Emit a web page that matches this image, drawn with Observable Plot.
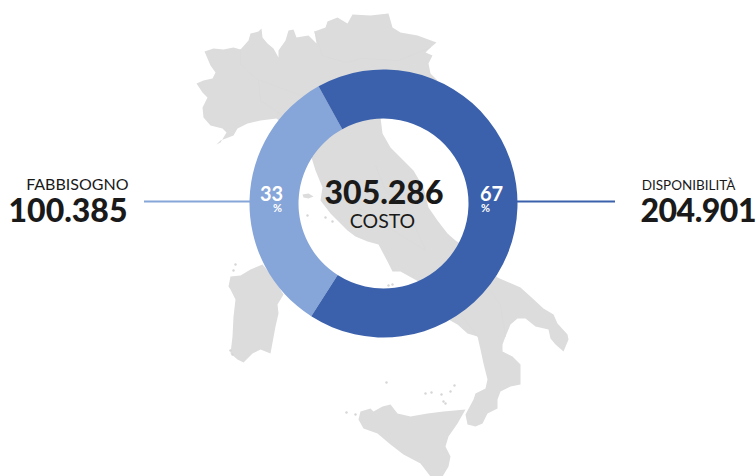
<!DOCTYPE html>
<html><head><meta charset="utf-8">
<script src="https://cdn.jsdelivr.net/npm/d3@7"></script>
<script src="https://cdn.jsdelivr.net/npm/@observablehq/plot@0.6"></script>
<style>html,body{margin:0;padding:0;background:#fff}svg{display:block}.tight text{letter-spacing:-0.5px}</style>
</head><body><div id="c"></div>
<script>
const labels = ["FABBISOGNO", "DISPONIBILITÀ"];
const values = [100385, 204901];
const percents = [33, 67];
const total = 305286;
const totalLabel = "COSTO";
const colors = ["#86a5d8", "#3b61ac"];

// Outline of Italy (map units)
const mainland = [[196,83],[203,80],[212,78],[215,72],[210,65],[207,58],[204,51],[213,48],[223,49],[233,47],[240,49],[248,40],[250,33],[258,31],[261,28],[262,37],[267,43],[273,48],[278,57],[278,50],[285,40],[288,30],[293,29],[296,37],[308,35],[316,43],[314,31],[325,27],[327,21],[337,17],[347,23],[352,14],[370,15],[388,13],[392,27],[400,32],[417,35],[436,42],[430,47],[425,52],[432,55],[428,63],[430,73],[437,80],[413,100],[387,110],[380,117],[382,133],[390,147],[400,157],[413,170],[423,187],[428,207],[437,220],[447,233],[455,240],[470,250],[497,277],[520,287],[530,296],[543,308],[553,314],[557,323],[567,334],[568,339],[563,351],[555,344],[550,338],[548,329],[535,326],[525,318],[517,318],[510,324],[505,336],[502,344],[502,351],[512,356],[520,364],[520,373],[520,384],[510,386],[500,391],[497,399],[497,408],[487,413],[482,423],[475,426],[467,424],[465,414],[473,399],[475,393],[485,388],[487,379],[483,363],[480,349],[477,336],[467,333],[457,324],[448,319],[430,300],[418,281],[400,271],[392,271],[387,261],[378,244],[367,241],[355,236],[347,230],[330,213],[320,200],[322,187],[315,170],[311,157],[290,130],[276,118],[260,120],[247,123],[237,128],[233,135],[220,140],[216,144],[220,142],[226,132],[222,128],[210,125],[203,117],[202,107],[207,97],[202,92]];
const sardinia = [[228,286],[230,276],[240,275],[250,269],[262,264],[272,276],[283,294],[277,304],[278,313],[275,326],[270,353],[260,349],[252,353],[243,362],[237,359],[230,353],[232,336],[233,316],[235,299],[230,289]];
const sicily = [[358,419],[360,411],[370,408],[373,411],[382,406],[390,404],[397,413],[410,416],[427,413],[443,411],[465,409],[457,423],[448,436],[445,446],[450,456],[448,466],[442,476],[430,476],[420,463],[403,454],[390,444],[377,433],[363,428]];
const elba = [[302,194],[308,193],[313,196],[308,198],[303,197]];
const outlines = [mainland, sardinia, sicily, elba]
  .flatMap((part, z) => part.map(([x, y]) => ({x, y, z})));
const borders = [
  [[240,49],[240,64],[258,80],[260,100],[285,117]],
  [[314,31],[322,55],[345,62],[362,58],[398,60],[430,47]],
  [[260,80],[300,95],[330,90]],
  [[375,165],[385,190],[410,215],[425,250]],
  [[347,200],[385,225],[425,250]],
  [[490,290],[500,305],[505,336]],
  [[450,300],[477,336]]
].flatMap((part, z) => part.map(([x, y]) => ({x, y, z})));
const islets = [[325,217],[307,215],[332,221],[386,382],[425,393],[431,392],[441,394],[443,401],[445,403],[450,391],[454,385],[346,412],[355,414],[388,285],[392,284],[235,264],[233,270],[230,350],[232,354]];

// Donut, from the values
const center = {x: 383, y: 203};
const tau = 2 * Math.PI, startAngle = -29 * Math.PI / 180;
const outerR = 134, innerRatio = 85 / 134;
const arcSymbol = (a0, a1) => ({
  draw(ctx, size) {
    const r = Math.sqrt(size / Math.PI);
    d3.arc().context(ctx)({innerRadius: r * innerRatio, outerRadius: r, startAngle: a0, endAngle: a1});
    ctx.closePath();
  }
});
const shareDark = values[1] / total;
const darkEnd = startAngle + shareDark * tau;
const sliceMark = (a0, a1, fill) =>
  Plot.dot([center], {x: "x", y: "y", r: outerR, symbol: arcSymbol(a0, a1), fill, stroke: "none"});

const font = "Lato, 'Open Sans', sans-serif";
const ink = "#1a1a1a";
const fmt = v => d3.format(",")(v).replace(/,/g, ".");
const txt = (s, x, y, o) => Plot.text([s], {x: () => x, y: () => y, text: d => d, lineAnchor: "bottom", fontFamily: font, ...o});

const chart = Plot.plot({
  width: 755, height: 476, margin: 0,
  x: {domain: [0, 755], range: [0, 755], axis: null},
  y: {domain: [0, 476], range: [0, 476], axis: null},
  style: {background: "transparent"},
  marks: [
    Plot.line(outlines, {x: "x", y: "y", z: "z", fill: "#dcdcdc", stroke: "none"}),
    Plot.line(borders, {x: "x", y: "y", z: "z", stroke: "#d8d8d8", strokeWidth: 0.6}),
    Plot.dot(islets, {x: d => d[0], y: d => d[1], r: 1.2, fill: "#d6d6d6"}),
    Plot.ruleY([201], {x1: 144, x2: 255, stroke: colors[0], strokeWidth: 2}),
    Plot.ruleY([201], {x1: 510, x2: 615, stroke: colors[1], strokeWidth: 2}),
    sliceMark(darkEnd, startAngle + tau, colors[0]),
    sliceMark(startAngle, darkEnd, colors[1]),
    txt(labels[0], 128, 189, {textAnchor: "end", fontSize: 16, fill: ink}),
    txt(fmt(values[0]), 127, 221, {textAnchor: "end", fontSize: 32, fontWeight: 900, fill: ink}),
    txt(labels[1], 735, 189, {textAnchor: "end", fontSize: 13.5, fill: ink}),
    txt(fmt(values[1]), 640, 221, {textAnchor: "start", fontSize: 32, fontWeight: 900, fill: ink, className: "tight"}),
    txt(fmt(total), 383.5, 203.5, {textAnchor: "middle", fontSize: 32, fontWeight: 900, fill: ink}),
    txt(totalLabel, 382, 227, {textAnchor: "middle", fontSize: 19.5, fontWeight: 400, fill: ink}),
    txt(String(percents[0]), 271, 200, {textAnchor: "middle", fontSize: 20, fontWeight: 700, fill: "#fff"}),
    txt("%", 277, 211, {textAnchor: "middle", fontSize: 11, fontWeight: 700, fill: "#fff"}),
    txt(String(percents[1]), 491, 200, {textAnchor: "middle", fontSize: 20, fontWeight: 700, fill: "#fff"}),
    txt("%", 485, 211, {textAnchor: "middle", fontSize: 11, fontWeight: 700, fill: "#fff"})
  ]
});
document.getElementById("c").append(chart);
</script></body></html>
